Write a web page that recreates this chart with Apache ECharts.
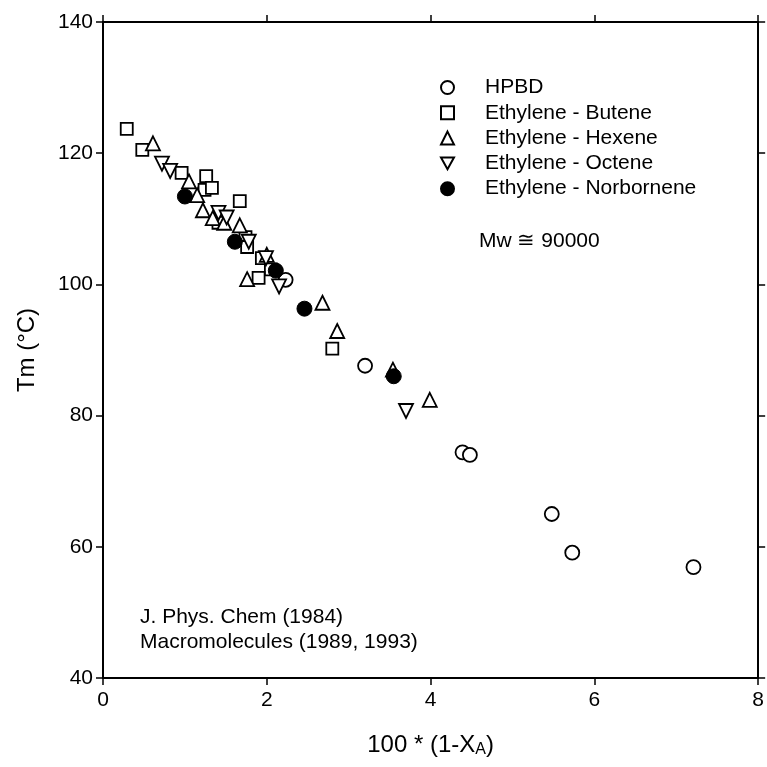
<!DOCTYPE html>
<html>
<head>
<meta charset="utf-8">
<script src="https://cdn.jsdelivr.net/npm/echarts@6/dist/echarts.min.js"></script>
<style>
  html, body { margin: 0; padding: 0; background: #fff; overflow: hidden; }
  #chart { width: 767px; height: 767px; }
</style>
</head>
<body>
<div id="chart"></div>
<script>
// data: [100*(1-XA), Tm]
const hpbd = [[2.23, 100.7], [3.20, 87.6], [4.39, 74.4], [4.48, 74.0], [5.48, 65.0], [5.73, 59.1], [7.21, 56.9]]
const butene = [[0.29, 123.7], [0.48, 120.5], [0.96, 117.0], [1.26, 116.5], [1.24, 114.4], [1.33, 114.7],
  [1.67, 112.7], [1.41, 109.4], [1.74, 107.2], [1.76, 105.7], [1.94, 104.0], [2.05, 102.3], [1.90, 101.0], [2.80, 90.2]]
const hexene = [[0.61, 121.5], [1.05, 115.7], [1.15, 113.6], [1.22, 111.3], [1.34, 110.1], [1.48, 109.4],
  [1.67, 109.0], [2.00, 104.5], [1.76, 100.8], [2.68, 97.2], [2.86, 92.9], [3.54, 87.0], [3.99, 82.4]]
const octene = [[0.72, 118.4], [0.82, 117.3], [1.41, 110.9], [1.51, 110.2], [1.78, 106.5], [1.99, 104.0],
  [2.15, 99.7], [3.70, 80.7]]
const norbornene = [[1.00, 113.4], [1.61, 106.5], [2.11, 102.1], [2.46, 96.3], [3.55, 86.0]]

const seriesNames = ['HPBD', 'Ethylene - Butene', 'Ethylene - Hexene', 'Ethylene - Octene', 'Ethylene - Norbornene']
const xTicks = { min: 0, max: 8, interval: 2 }
const yTicks = { min: 40, max: 140, interval: 20 }

const FONT = '"Liberation Sans", Arial, sans-serif'

const hollow = { color: '#fff', borderColor: '#000', borderWidth: 1.8, opacity: 1 }
const solid = { color: '#000', borderColor: '#000', borderWidth: 1, opacity: 1 }
const downTri = 'path://M0,0 L10,0 L5,9 Z'

function scatter(name, data, symbol, size, style) {
  return { name, type: 'scatter', data, symbol, symbolSize: size, itemStyle: style, emphasis: { disabled: true } }
}

const axisLine = { show: true, onZero: false, lineStyle: { color: '#000', width: 2 } }
const axisTick = { show: true, length: 7, lineStyle: { color: '#000', width: 1.5 } }

const chart = echarts.init(document.getElementById('chart'))
chart.setOption({
  animation: false,
  backgroundColor: '#fff',
  grid: { left: 103, width: 660, top: 22, bottom: 89 },
  xAxis: [
    {
      type: 'value', ...xTicks, position: 'bottom',
      axisLine, axisTick, splitLine: { show: false },
      axisLabel: { color: '#000', fontSize: 21, fontFamily: FONT, margin: 12 },
      name: '100 * (1-X{sub|A})', nameLocation: 'middle', nameGap: 54,
      nameTextStyle: {
        color: '#000', fontSize: 24, fontFamily: FONT,
        rich: { sub: { fontSize: 16, fontFamily: FONT, color: '#000', verticalAlign: 'bottom', padding: [10, 0, 0, 0] } }
      }
    },
    { type: 'value', ...xTicks, position: 'top', axisLine, axisTick, axisLabel: { show: false }, splitLine: { show: false } }
  ],
  yAxis: [
    {
      type: 'value', ...yTicks, position: 'left',
      axisLine, axisTick, splitLine: { show: false },
      axisLabel: { color: '#000', fontSize: 21, fontFamily: FONT, margin: 10 },
      name: 'Tm (°C)', nameLocation: 'middle', nameGap: 64, nameRotate: 90,
      nameTextStyle: { color: '#000', fontSize: 24, fontFamily: FONT }
    },
    { type: 'value', ...yTicks, position: 'right', axisLine, axisTick, axisLabel: { show: false }, splitLine: { show: false } }
  ],
  legend: {
    data: seriesNames,
    orient: 'vertical',
    left: 435, top: 72,
    itemWidth: 13, itemHeight: 13, itemGap: 4.3,
    selectedMode: false,
    textStyle: { color: '#000', fontSize: 21, lineHeight: 21, fontFamily: FONT, padding: [0, 0, 0, 26] }
  },
  graphic: [
    {
      type: 'text', left: 479, top: 231,
      style: { text: 'Mw \u2245 90000', fill: '#000', font: '21px ' + FONT }
    },
    {
      type: 'text', left: 140, top: 605,
      style: { text: 'J. Phys. Chem (1984)\nMacromolecules (1989, 1993)', fill: '#000', font: '21px ' + FONT, lineHeight: 25 }
    }
  ],
  series: [
    scatter(seriesNames[0], hpbd, 'circle', 14, hollow),
    scatter(seriesNames[1], butene, 'rect', 12, hollow),
    scatter(seriesNames[2], hexene, 'triangle', 14, hollow),
    scatter(seriesNames[3], octene, downTri, 14, hollow),
    scatter(seriesNames[4], norbornene, 'circle', 15, solid)
  ]
})
</script>
</body>
</html>
